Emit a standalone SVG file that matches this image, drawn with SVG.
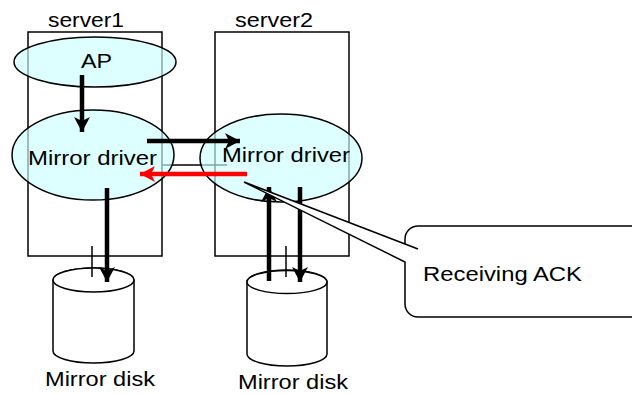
<svg xmlns="http://www.w3.org/2000/svg" width="632" height="394" viewBox="0 0 632 394">
<style>
.box{fill:none;stroke:#000;stroke-width:1.5}
.ell{fill:#ccffff;fill-opacity:0.65;stroke:#000;stroke-width:1.5}
.disk{fill:#fff;stroke:#000;stroke-width:1.5}
.thin{fill:none;stroke:#000;stroke-width:1.5}
.arr{fill:none;stroke:#000;stroke-width:4.5;marker-end:url(#ah)}
.arr-red{fill:none;stroke:#ff0000;stroke-width:4.5;marker-end:url(#ahr)}
text{font-family:"Liberation Sans",Arial,sans-serif;font-size:19.5px;fill:#000}
</style>
<defs>
<marker id="ah" markerUnits="userSpaceOnUse" viewBox="-16 -9 18 18" refX="0" refY="0" markerWidth="18" markerHeight="18" orient="auto">
<path d="M0,0 L-15,-8 L-11,0 L-15,8 Z" fill="#000"/>
</marker>
<marker id="ahr" markerUnits="userSpaceOnUse" viewBox="-16 -9 18 18" refX="0" refY="0" markerWidth="18" markerHeight="18" orient="auto">
<path d="M0,0 L-15,-8 L-11,0 L-15,8 Z" fill="#ff0000"/>
</marker>
</defs>

<g id="server1">
<rect class="box" x="28" y="32" width="134" height="224"/>
<text x="48" y="27" textLength="76" lengthAdjust="spacingAndGlyphs">server1</text>
</g>
<g id="server2">
<rect class="box" x="215" y="32" width="134" height="224"/>
<text x="235" y="27" textLength="78" lengthAdjust="spacingAndGlyphs">server2</text>
</g>

<g id="link-line">
<line class="thin" x1="162" y1="165" x2="227" y2="165"/>
</g>

<g id="ap">
<ellipse class="ell" cx="95" cy="62" rx="81" ry="25"/>
<text x="81" y="68" textLength="31" lengthAdjust="spacingAndGlyphs">AP</text>
</g>
<g id="mirror-driver-1">
<ellipse class="ell" cx="93" cy="155" rx="81" ry="45"/>
</g>
<g id="mirror-driver-2">
<ellipse class="ell" cx="281" cy="158" rx="81" ry="44"/>
</g>

<g id="mirror-disk-1">
<path class="disk" d="M53,280 V351 A40.5,12 0 0 0 134,351 V280 A40.5,12 0 0 0 53,280 Z"/>
<ellipse class="disk" cx="93.5" cy="280" rx="40.5" ry="12"/>
<text x="45" y="386" textLength="110" lengthAdjust="spacingAndGlyphs">Mirror disk</text>
</g>
<g id="mirror-disk-2">
<path class="disk" d="M247,282 V354 A40,12 0 0 0 327,354 V282 A40,12 0 0 0 247,282 Z"/>
<ellipse class="disk" cx="287" cy="282" rx="40" ry="11.5"/>
<text x="238" y="389" textLength="110" lengthAdjust="spacingAndGlyphs">Mirror disk</text>
</g>

<g id="connectors">
<line class="thin" x1="92" y1="246" x2="92" y2="277"/>
<line class="thin" x1="286" y1="246" x2="286" y2="277"/>
<line class="arr" x1="82" y1="75" x2="82" y2="132"/>
<line class="arr" x1="147" y1="141" x2="240" y2="141"/>
<line class="arr-red" x1="247" y1="174" x2="140" y2="174"/>
<line class="arr" x1="107" y1="188" x2="107" y2="282"/>
<line class="arr" x1="269" y1="281" x2="269" y2="187"/>
<line class="arr" x1="300" y1="187" x2="300" y2="282"/>
</g>

<g id="labels">
<text x="28" y="165" textLength="129" lengthAdjust="spacingAndGlyphs">Mirror driver</text>
<text x="222" y="162" textLength="128" lengthAdjust="spacingAndGlyphs">Mirror driver</text>
</g>

<g id="callout">
<path d="M418,226 H645 V317 H418 A13,13 0 0 1 405,304 V262 L244,182 L405,244 V239 A13,13 0 0 1 418,226 Z" fill="#fff" stroke="none"/>
<path d="M418,226 H645 V317 H418 A13,13 0 0 1 405,304 V262 L244,182 L418,249 M405,244 V239 A13,13 0 0 1 418,226" fill="none" stroke="#000" stroke-width="1.5"/>
<text x="423" y="281" textLength="159" lengthAdjust="spacingAndGlyphs">Receiving ACK</text>
</g>
</svg>
